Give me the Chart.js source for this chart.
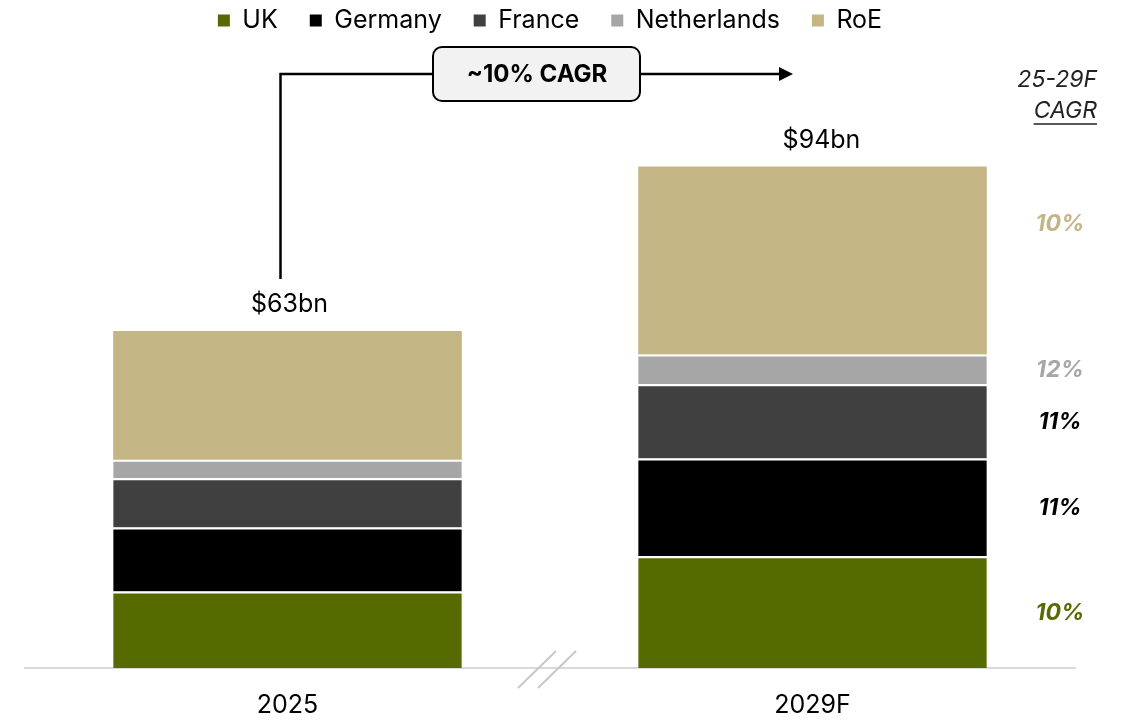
<!DOCTYPE html>
<html>
<head>
<meta charset="utf-8">
<script src="https://cdn.jsdelivr.net/npm/chart.js@4"></script>
<style>
  html, body { margin: 0; padding: 0; background: #fff; }
</style>
</head>
<body>
<canvas id="chart" width="1128" height="721"></canvas>
<script>
const categories = ['2025', '2029F'];
const seriesNames = ['UK', 'Germany', 'France', 'Netherlands', 'RoE'];
const ukValues = [14.3, 20.9];
const germanyValues = [12.0, 18.3];
const franceValues = [9.2, 13.9];
const netherlandsValues = [3.5, 5.6];
const roeValues = [24.1, 35.2];
const totalLabels = ['$63bn', '$94bn'];
const cagrLabels = ['10%', '11%', '11%', '12%', '10%'];
const cagrHeader = ['25-29F', 'CAGR'];
const growthLabel = '~10% CAGR';

const colors = ['#556b00', '#000000', '#404040', '#a6a6a6', '#c3b584'];
const cagrColors = ['#556b00', '#000000', '#000000', '#a6a6a6', '#c3b584'];
const FONT = 'Inter';

const allValues = [ukValues, germanyValues, franceValues, netherlandsValues, roeValues];

const datasets = seriesNames.map((name, i) => ({
    label: name,
    data: allValues[i],
    backgroundColor: colors[i],
    borderColor: '#ffffff',
    borderWidth: { top: i === 4 ? 0 : 2, bottom: 0, left: 0, right: 0 },
    borderSkipped: false,
    barPercentage: 1,
    categoryPercentage: 0.664
}));

// labels, arrow, CAGR column, axis break
const annotations = {
    id: 'annotations',
    afterDatasetsDraw(chart) {
        const ctx = chart.ctx;
        const topBars = chart.getDatasetMeta(4).data;
        ctx.save();

        // totals above bars
        ctx.font = `25px ${FONT}`;
        ctx.fillStyle = '#000';
        ctx.textAlign = 'center';
        ctx.textBaseline = 'middle';
        topBars.forEach((bar, i) => {
            ctx.fillText(totalLabels[i], bar.x + (i ? 9 : 2), bar.y - 26);
        });

        // growth arrow
        const ax = topBars[0].x - 7;
        const ay = 74;
        ctx.strokeStyle = '#000';
        ctx.lineWidth = 2.5;
        ctx.beginPath();
        ctx.moveTo(ax, topBars[0].y - 52);
        ctx.lineTo(ax, ay);
        ctx.lineTo(781, ay);
        ctx.stroke();
        ctx.fillStyle = '#000';
        ctx.beginPath();
        ctx.moveTo(779, ay - 7);
        ctx.lineTo(793, ay);
        ctx.lineTo(779, ay + 7);
        ctx.closePath();
        ctx.fill();

        // growth box
        ctx.beginPath();
        ctx.roundRect(433, 47, 207, 54, 9);
        ctx.fillStyle = '#f2f2f2';
        ctx.fill();
        ctx.lineWidth = 2;
        ctx.stroke();
        ctx.fillStyle = '#000';
        ctx.font = `bold 24px ${FONT}`;
        ctx.fillText(growthLabel, 537, ay + 1);

        // CAGR header
        ctx.font = `italic 23px ${FONT}`;
        ctx.fillStyle = '#222';
        ctx.textAlign = 'right';
        ctx.fillText(cagrHeader[0], 1097, 80);
        ctx.fillText(cagrHeader[1], 1097, 111);
        const w = ctx.measureText(cagrHeader[1]).width;
        ctx.lineWidth = 1.5;
        ctx.strokeStyle = '#222';
        ctx.beginPath();
        ctx.moveTo(1097 - w, 124);
        ctx.lineTo(1097, 124);
        ctx.stroke();

        // CAGR per segment
        ctx.font = `italic bold 23px ${FONT}`;
        ctx.textAlign = 'center';
        seriesNames.forEach((name, i) => {
            const bar = chart.getDatasetMeta(i).data[1];
            let y = (bar.y + bar.base) / 2;
            if (i === 4) y -= 37;
            ctx.fillStyle = cagrColors[i];
            ctx.fillText(cagrLabels[i], 1060, y + 1);
        });

        // axis break
        const xs = chart.scales.x;
        const mid = (xs.getPixelForValue(0) + xs.getPixelForValue(1)) / 2 - 3;
        const base = chart.chartArea.bottom;
        ctx.strokeStyle = '#c8c8c8';
        ctx.lineWidth = 2;
        [-19, 1].forEach(off => {
            ctx.beginPath();
            ctx.moveTo(mid + off - 10, base + 20);
            ctx.lineTo(mid + off + 28, base - 17);
            ctx.stroke();
        });
        ctx.restore();
    }
};

new Chart(document.getElementById('chart'), {
    type: 'bar',
    data: { labels: categories, datasets: datasets },
    options: {
        responsive: false,
        animation: false,
        layout: { padding: { left: 25, right: 53, top: -24, bottom: -21 } },
        scales: {
            x: {
                stacked: true,
                grid: { display: false, drawTicks: false },
                border: { display: true, color: '#d9d9d9', width: 2 },
                ticks: { color: '#000', font: { family: FONT, size: 25 }, padding: 22 }
            },
            y: { stacked: true, display: false, min: 0, max: 117 }
        },
        plugins: {
            legend: {
                position: 'top',
                labels: {
                    color: '#000',
                    font: { family: FONT, size: 25 },
                    boxWidth: 12,
                    boxHeight: 12,
                    padding: 32,
                    generateLabels(chart) {
                        return Chart.defaults.plugins.legend.labels.generateLabels(chart).map(l => {
                            l.lineWidth = 0;
                            l.strokeStyle = 'rgba(0,0,0,0)';
                            return l;
                        });
                    }
                }
            },
            tooltip: { enabled: false }
        }
    },
    plugins: [annotations]
});
</script>
</body>
</html>
